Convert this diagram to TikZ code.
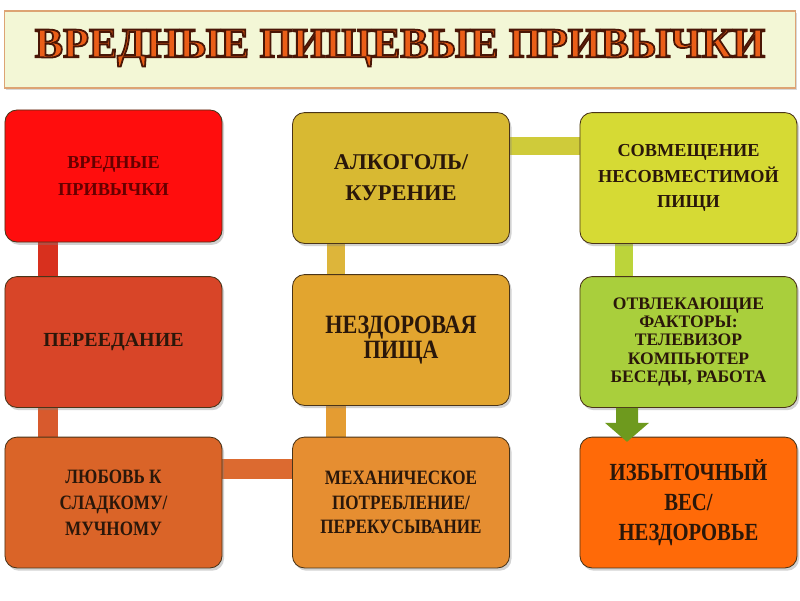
\documentclass[tikz,border=0pt]{standalone}
\usepackage{fontspec}
\setmainfont{Liberation Serif}
\newfontfamily\condfont[FakeStretch=0.84]{Liberation Serif}
\usetikzlibrary{shadows,calc,backgrounds}
\definecolor{boxline}{HTML}{4A3418}
\definecolor{txt}{HTML}{2A170A}
\definecolor{cA}{HTML}{FF0D0D}
\definecolor{cB}{HTML}{D84528}
\definecolor{cC}{HTML}{DA6428}
\definecolor{cD}{HTML}{D8B932}
\definecolor{cE}{HTML}{E2A52F}
\definecolor{cF}{HTML}{E68E31}
\definecolor{cG}{HTML}{D6DA34}
\definecolor{cH}{HTML}{A9CF3C}
\definecolor{cI}{HTML}{FF6A08}
\definecolor{barA}{HTML}{D8301E}
\definecolor{barB}{HTML}{D85A2D}
\definecolor{barC}{HTML}{DC6A30}
\definecolor{barD}{HTML}{E49C32}
\definecolor{barE}{HTML}{DDB53A}
\definecolor{barF}{HTML}{CFCB3A}
\definecolor{barG}{HTML}{BCD43A}
\definecolor{arrowgreen}{HTML}{6E9A1E}
\definecolor{titlefill}{HTML}{F3F7D6}
\definecolor{titleborder}{HTML}{DDA474}
\definecolor{titleorange}{HTML}{EA5E18}
\newcommand\mytitletext{\resizebox{18.25cm}{!}{\special{pdf:code q 2 Tr 0.42 w 0.29 0.086 0.024 RG}\bfseries ВРЕДНЫЕ ПИЩЕВЫЕ ПРИВЫЧКИ\special{pdf:code Q}}}
\begin{document}
\begin{tikzpicture}[x=0.025cm,y=-0.025cm,
  box/.style={draw=boxline, line width=0.6pt, rounded corners=0.3cm,
    minimum width=5.425cm, minimum height=3.27cm, align=center, text=txt,
    drop shadow={shadow xshift=0.05cm, shadow yshift=-0.07cm, opacity=0.35}},
  bar/.style={line width=0.5cm},
  titlebar/.style={draw=titleborder, line width=0.8pt, fill=titlefill,
    minimum width=19.75cm, minimum height=1.925cm,
    drop shadow={shadow xshift=0.04cm, shadow yshift=-0.06cm, opacity=0.3}}]
\useasboundingbox (0,0) rectangle (800,600);

% title
\node[titlebar] (title) at (400,49.5) {};
\node[text=titleorange, inner sep=0pt] (tt) at (400,48) {\mytitletext};

% boxes
\node[box, fill=cA, minimum height=3.3cm, text=red!40!black,
  font=\fontsize{13}{19}\selectfont\bfseries] (b1) at (113.5,176) {ВРЕДНЫЕ\\ПРИВЫЧКИ};
\node[box, fill=cB, font=\fontsize{14.2}{18}\selectfont\bfseries] (b2) at (113.5,342) {ПЕРЕЕДАНИЕ};
\node[box, fill=cC, font=\condfont\fontsize{14.5}{18.5}\selectfont\bfseries] (b3) at (113.5,502.5)
  {ЛЮБОВЬ К\\СЛАДКОМУ/\\МУЧНОМУ};
\node[box, fill=cD, font=\fontsize{16}{22}\selectfont\bfseries] (b4) at (401,178) {АЛКОГОЛЬ/\\КУРЕНИЕ};
\node[box, fill=cE, font=\condfont\fontsize{18.8}{15.8}\selectfont\bfseries] (b5) at (401,340) {НЕЗДОРОВАЯ\\ПИЩА};
\node[box, fill=cF, font=\condfont\fontsize{14.5}{17.5}\selectfont\bfseries] (b6) at (401,502.5)
  {МЕХАНИЧЕСКОЕ\\ПОТРЕБЛЕНИЕ/\\ПЕРЕКУСЫВАНИЕ};
\node[box, fill=cG, font=\fontsize{13}{18}\selectfont\bfseries] (b7) at (688.5,178)
  {СОВМЕЩЕНИЕ\\НЕСОВМЕСТИМОЙ\\ПИЩИ};
\node[box, fill=cH, font=\fontsize{12.5}{13}\selectfont\bfseries] (b8) at (688.5,342)
  {ОТВЛЕКАЮЩИЕ\\ФАКТОРЫ:\\ТЕЛЕВИЗОР\\КОМПЬЮТЕР\\БЕСЕДЫ, РАБОТА};
\node[box, fill=cI, font=\condfont\fontsize{17.5}{21.5}\selectfont\bfseries] (b9) at (688.5,502.5)
  {ИЗБЫТОЧНЫЙ\\ВЕС/\\НЕЗДОРОВЬЕ};

% connectors
\begin{scope}[on background layer]
\fill[white] (0,0) rectangle (800,600);
\draw[bar, barA] ($(b1.center)+(-65.5,0)$) -- ($(b2.center)+(-65.5,0)$);
\draw[bar, barB] ($(b2.center)+(-65.5,0)$) -- ($(b3.center)+(-65.5,0)$);
\draw[bar, barC] ($(b3.center)+(0,-33.5)$) -- ($(b6.center)+(0,-33.5)$);
\draw[bar, barD] ($(b6.center)+(-65,0)$) -- ($(b5.center)+(-65,2)$);
\draw[bar, barE, line width=0.46cm] ($(b5.center)+(-65,2)$) -- ($(b4.center)+(-65,0)$);
\draw[bar, barF, line width=0.46cm] ($(b4.center)+(0,-32)$) -- ($(b7.center)+(0,-32)$);
\draw[bar, barG, line width=0.46cm] ($(b7.center)+(-64.5,0)$) -- ($(b8.center)+(-64.5,0)$);
\end{scope}

% arrow
\coordinate (as) at ($(b8.south)+(-61.5,0)$);
\fill[arrowgreen] ($(as)+(-11,0)$) -- ($(as)+(11,0)$) -- ($(as)+(11,15)$) -- ($(as)+(22,15)$)
  -- ($(as)+(0,34)$) -- ($(as)+(-22,15)$) -- ($(as)+(-11,15)$) -- cycle;
\end{tikzpicture}
\end{document}
